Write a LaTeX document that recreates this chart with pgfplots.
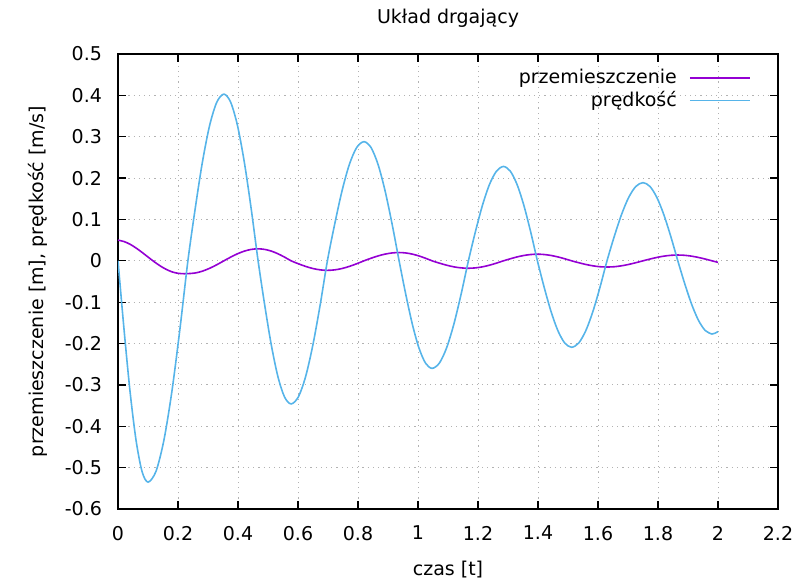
\documentclass[border=0pt]{standalone}
\usepackage{pgfplots}
\usepackage{pgfplotstable}
\pgfplotsset{compat=1.18}
\usepackage{fontspec}
\setmainfont{DejaVu Sans}
\definecolor{dispcol}{HTML}{9400D3}
\definecolor{velcol}{HTML}{56B4E9}

% t, displacement [m]
\pgfplotstableread{
t disp
0 0.05
0.02 0.0466
0.04 0.0401
0.06 0.0311
0.08 0.0205
0.1 0.0092
0.12 -0.0019
0.14 -0.0120
0.16 -0.0204
0.18 -0.0267
0.2 -0.0302
0.22 -0.0312
0.233 -0.031
0.257 -0.0295
0.281 -0.0251
0.305 -0.0182
0.329 -0.0096
0.353 0
0.3758 0.0090
0.3986 0.0171
0.4214 0.0235
0.4442 0.0276
0.467 0.029
0.489 0.0276
0.511 0.0235
0.533 0.0171
0.555 0.0090
0.577 0
0.6012 -0.0071
0.6254 -0.0135
0.6496 -0.0186
0.6738 -0.0219
0.698 -0.023
0.7224 -0.0219
0.7468 -0.0186
0.7712 -0.0135
0.7956 -0.0071
0.82 0
0.8434 0.0062
0.8668 0.0118
0.8902 0.0162
0.9136 0.0190
0.937 0.020
0.959 0.0190
0.981 0.0162
1.003 0.0118
1.025 0.0062
1.047 0
1.0712 -0.0056
1.0954 -0.0106
1.1196 -0.0146
1.1438 -0.0171
1.168 -0.018
1.1914 -0.0171
1.2148 -0.0146
1.2382 -0.0106
1.2616 -0.0056
1.285 0
1.3076 0.0049
1.3302 0.0094
1.3528 0.0129
1.3754 0.0152
1.398 0.016
1.4208 0.0152
1.4436 0.0129
1.4664 0.0094
1.4892 0.0049
1.512 0
1.5356 -0.0046
1.5592 -0.0088
1.5828 -0.0121
1.6064 -0.0143
1.63 -0.015
1.654 -0.0143
1.678 -0.0121
1.702 -0.0088
1.726 -0.0046
1.75 0
1.7732 0.0043
1.7964 0.0082
1.8196 0.0113
1.8428 0.0133
1.866 0.014
1.8888 0.0133
1.9116 0.0113
1.9344 0.0082
1.9572 0.0043
1.98 0
1.99 -0.0019
2.0 -0.0037
}\dispdata

% t, velocity [m/s]
\pgfplotstableread{
t vel
0 0
0.02 -0.165
0.04 -0.315
0.06 -0.433
0.08 -0.509
0.1 -0.535
0.1266 -0.509
0.1532 -0.433
0.1798 -0.315
0.2064 -0.165
0.233 0
0.257 0.1245
0.281 0.237
0.305 0.326
0.329 0.383
0.353 0.403
0.3758 0.383
0.3986 0.326
0.4214 0.237
0.4442 0.1245
0.467 0
0.489 -0.1069
0.511 -0.2034
0.533 -0.2799
0.555 -0.329
0.577 -0.346
0.6012 -0.329
0.6254 -0.2799
0.6496 -0.2034
0.6738 -0.1069
0.698 0
0.7224 0.089
0.7468 0.1693
0.7712 0.233
0.7956 0.2739
0.82 0.288
0.8434 0.2739
0.8668 0.233
0.8902 0.1693
0.9136 0.089
0.937 0
0.959 -0.0803
0.981 -0.1529
1.003 -0.2103
1.025 -0.2473
1.047 -0.26
1.0712 -0.2473
1.0954 -0.2103
1.1196 -0.1529
1.1438 -0.0803
1.168 0
1.1914 0.0705
1.2148 0.1341
1.2382 0.1845
1.2616 0.2168
1.285 0.228
1.3076 0.2168
1.3302 0.1845
1.3528 0.1341
1.3754 0.0705
1.398 0
1.4208 -0.0646
1.4436 -0.1229
1.4664 -0.1691
1.4892 -0.1988
1.512 -0.209
1.5356 -0.1988
1.5592 -0.1691
1.5828 -0.1229
1.6064 -0.0646
1.63 0
1.654 0.0584
1.678 0.1111
1.702 0.1529
1.726 0.1797
1.75 0.189
1.7732 0.1797
1.7964 0.1529
1.8196 0.1111
1.8428 0.0584
1.866 0
1.8888 -0.0547
1.9116 -0.1041
1.9344 -0.1432
1.9572 -0.1683
1.98 -0.177
1.99 -0.175
2.0 -0.171
}\veldata

\begin{document}
\begin{tikzpicture}[font=\fontsize{9.5}{11.5}\selectfont]
\begin{axis}[
  name=ax,
  scale only axis,
  width=330pt, height=227.5pt,
  xmin=0, xmax=2.2,
  ymin=-0.6, ymax=0.5,
  xtick={0,0.2,0.4,0.6,0.8,1,1.2,1.4,1.6,1.8,2,2.2},
  xticklabels={0,0.2,0.4,0.6,0.8,1,1.2,1.4,1.6,1.8,2,2.2},
  ytick={-0.6,-0.5,-0.4,-0.3,-0.2,-0.1,0,0.1,0.2,0.3,0.4,0.5},
  yticklabels={-0.6,-0.5,-0.4,-0.3,-0.2,-0.1,0,0.1,0.2,0.3,0.4,0.5},
  tick pos=both,
  tick align=inside,
  major tick length=4pt,
  every tick/.style={black, line width=0.6pt},
  axis line style={line width=0.6pt},
  grid=major,
  grid style={gray!60, line width=0.5pt, dash pattern=on 0.6pt off 2pt},
  xticklabel style={yshift=-5pt},
  yticklabel style={xshift=-4.5pt},
  title={Układ drgający},
  title style={at={([yshift=12pt]axis description cs:0.5,1)}, anchor=center},
  xlabel={czas [t]},
  xlabel style={at={([yshift=-30.5pt]axis description cs:0.5,0)}, anchor=center},
  ylabel={przemieszczenie [m], prędkość [m/s]},
  ylabel style={at={([xshift=-40pt]axis description cs:0,0.5)}, anchor=center},
  legend plot pos=right,
  legend cell align=right,
  legend image code/.code={\path[draw=none, fill=none] (0pt,0pt) -- (0.1pt,0pt);
    \draw[#1] (4.5pt,0pt) -- (34.5pt,0pt);},
  legend style={draw=none, fill=none, at={(1,1)}, anchor=north east,
    xshift=-10.5pt, yshift=-3.5pt, row sep=-1.7pt},
]
\addplot[dispcol, line width=0.8pt, smooth] table[x=t, y=disp] {\dispdata};
\addlegendentry{przemieszczenie}
\addplot[velcol, line width=0.8pt, smooth] table[x=t, y=vel] {\veldata};
\addlegendentry{prędkość}
\end{axis}
\pgfresetboundingbox
\path ([shift={(-59pt,-36.5pt)}]ax.south west) rectangle ([shift={(14.5pt,27pt)}]ax.north east);
\end{tikzpicture}
\end{document}
